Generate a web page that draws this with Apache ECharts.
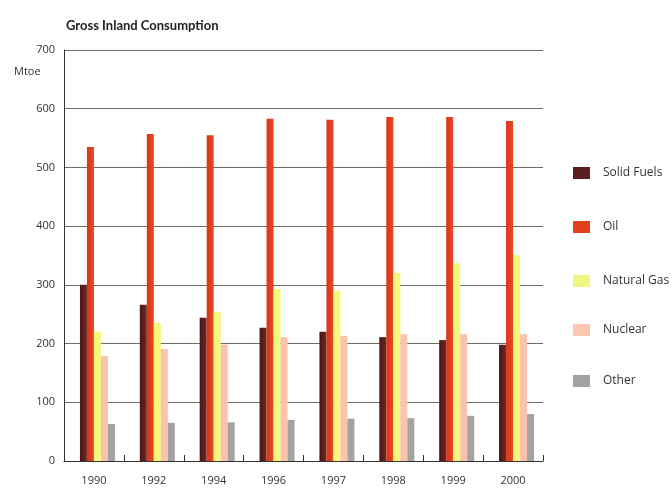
<!DOCTYPE html>
<html>
<head>
<meta charset="utf-8">
<script src="https://cdn.jsdelivr.net/npm/echarts@6/dist/echarts.min.js"></script>
<style>
  html, body { margin: 0; padding: 0; background: #ffffff; }
  #chart { width: 672px; height: 488px; }
</style>
</head>
<body>
<div id="chart"></div>
<script>
// Gross inland consumption by fuel, Mtoe
const years = ['1990', '1992', '1994', '1996', '1997', '1998', '1999', '2000'];
const solidFuels = [300, 266, 244, 227, 220, 211, 206, 198];
const oil = [535, 557, 555, 583, 581, 586, 586, 579];
const naturalGas = [220, 235, 254, 293, 290, 320, 337, 351];
const nuclear = [179, 191, 198, 211, 213, 216, 216, 216];
const other = [63, 65, 66, 70, 72, 73, 77, 80];
const yTicks = [0, 100, 200, 300, 400, 500, 600, 700];

const seriesNames = ['Solid Fuels', 'Oil', 'Natural Gas', 'Nuclear', 'Other'];
const seriesData = [solidFuels, oil, naturalGas, nuclear, other];
const colors = [
  new echarts.graphic.LinearGradient(0, 0, 1, 0, [
    { offset: 0, color: '#4a1418' }, { offset: 1, color: '#6e2a22' }
  ]),
  new echarts.graphic.LinearGradient(0, 0, 1, 0, [
    { offset: 0, color: '#d8341a' }, { offset: 1, color: '#e84a22' }
  ]),
  '#f6f87c',
  '#f9c3ac',
  '#a3a3a3'
];
const legendColors = ['#5a1e1e', '#e0401e', '#f0f680', '#fac8b0', '#a3a3a3'];

const chart = echarts.init(document.getElementById('chart'), null, { renderer: 'canvas' });

// An empty leading slot keeps each cluster slightly right of its category centre
const series = [{
  name: 'spacer',
  type: 'bar',
  data: years.map(() => null),
  barWidth: 7,
  barGap: '0%',
  silent: true
}].concat(seriesNames.map((name, i) => ({
  name: name,
  type: 'bar',
  data: seriesData[i],
  barWidth: 7,
  barGap: '0%',
  itemStyle: { color: colors[i] },
  emphasis: { disabled: true }
})));

const legendTop = [167, 221, 275, 324, 375];
const legendGraphics = [];
seriesNames.forEach((name, i) => {
  legendGraphics.push({
    type: 'rect',
    shape: { x: 573, y: legendTop[i], width: 17, height: 12 },
    style: { fill: legendColors[i] }
  });
  legendGraphics.push({
    type: 'text',
    x: 603, y: legendTop[i] + 6,
    style: {
      text: name, fill: '#333333',
      font: '12px "Open Sans", sans-serif',
      verticalAlign: 'middle'
    }
  });
});

chart.setOption({
  animation: false,
  backgroundColor: '#ffffff',
  title: {
    text: 'Gross Inland Consumption',
    left: 61, top: 14,
    textStyle: {
      fontFamily: '"Liberation Sans Narrow", Lato, sans-serif',
      fontWeight: 'bold', fontSize: 13, color: '#222222'
    }
  },
  grid: { left: 64, right: 129, top: 50, bottom: 27 },
  xAxis: {
    type: 'category',
    data: years,
    axisLine: { lineStyle: { color: '#333333', width: 1 } },
    axisTick: { show: true, inside: true, length: 6, alignWithLabel: false, lineStyle: { color: '#333333' } },
    axisLabel: { color: '#333333', fontSize: 11, margin: 14, fontFamily: '"Open Sans", sans-serif' }
  },
  yAxis: {
    type: 'value',
    min: yTicks[0], max: yTicks[yTicks.length - 1], interval: 100,
    axisLine: { show: true, lineStyle: { color: '#333333', width: 1 } },
    axisTick: { show: false },
    axisLabel: { color: '#333333', fontSize: 11, margin: 9, fontFamily: '"Open Sans", sans-serif' },
    splitLine: { lineStyle: { color: '#6e6e5e', width: 1 } }
  },
  graphic: [
    {
      type: 'text', x: 14, y: 72,
      style: { text: 'Mtoe', fill: '#333333', font: '11px "Open Sans", sans-serif', verticalAlign: 'middle' }
    }
  ].concat(legendGraphics),
  series: series
});
</script>
</body>
</html>
